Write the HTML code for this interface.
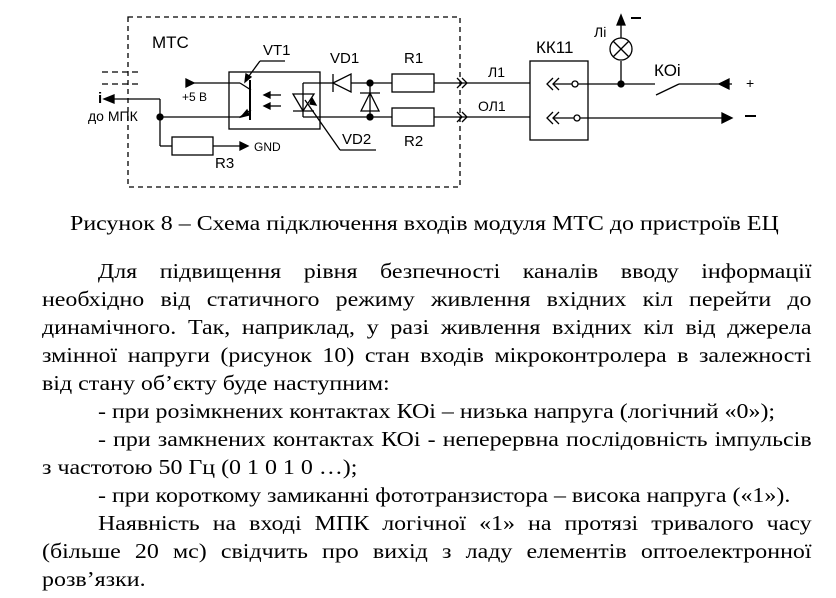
<!DOCTYPE html>
<html><head><meta charset="utf-8">
<style>
body{margin:0;width:836px;height:598px;background:#fff;position:relative;overflow:hidden;font-family:"Liberation Serif",serif;color:#000}
.l{position:absolute;left:42px;width:675px;font-size:21px;line-height:24px;white-space:nowrap;transform:scaleX(1.14);transform-origin:0 0}
.j{text-align:justify;text-align-last:justify;white-space:normal}
svg text{font-family:"Liberation Sans",sans-serif}
</style></head><body>
<svg width="836" height="200" style="position:absolute;left:0;top:0" stroke="#000" fill="none" stroke-width="1.3">
<rect x="128" y="17" width="332" height="170" stroke-dasharray="5,4"/>
<text x="152" y="48" font-size="17" fill="#000" stroke="none">МТС</text>
<line x1="102" y1="72" x2="138" y2="72" stroke-dasharray="6,4"/>
<line x1="102" y1="84" x2="138" y2="84" stroke-dasharray="6,4"/>
<line x1="112" y1="99" x2="160" y2="99"/>
<polygon points="104,99 114,95 114,103" fill="#000"/>
<text x="98" y="103" font-size="15" font-weight="bold" fill="#000" stroke="none">i</text>
<text x="88" y="121" font-size="14" fill="#000" stroke="none">до МПК</text>
<line x1="160" y1="99" x2="160" y2="146"/>
<line x1="160" y1="117" x2="240" y2="117"/>
<circle cx="160" cy="117" r="3" fill="#000"/>
<line x1="160" y1="146" x2="172" y2="146"/>
<rect x="172" y="137" width="41" height="18"/>
<line x1="213" y1="146" x2="242" y2="146"/>
<polygon points="248,146 240,142 240,150" fill="#000"/>
<text x="254" y="151" font-size="12" fill="#000" stroke="none">GND</text>
<text x="215" y="168" font-size="15" fill="#000" stroke="none">R3</text>
<line x1="186" y1="83" x2="240" y2="83"/>
<polygon points="194,83 186,79 186,87" fill="#000"/>
<text x="182" y="101" font-size="12" fill="#000" stroke="none">+5 В</text>
<rect x="229" y="72" width="91" height="57"/>
<line x1="240" y1="83" x2="251" y2="90"/>
<line x1="251" y1="110" x2="240" y2="117"/>
<line x1="250" y1="80" x2="250" y2="120" stroke-width="2"/>
<polygon points="241,117 247,110 249,115" fill="#000"/>
<line x1="285" y1="61" x2="260" y2="61"/><line x1="260" y1="61" x2="246" y2="80"/>
<polygon points="245,82 246,74 251,77" fill="#000"/>
<text x="263" y="55" font-size="15" fill="#000" stroke="none">VT1</text>
<line x1="266" y1="95" x2="281" y2="95"/><polygon points="264,95 270,92 270,98" fill="#000"/>
<line x1="266" y1="106" x2="281" y2="106"/><polygon points="264,106 270,103 270,109" fill="#000"/>
<line x1="303" y1="83" x2="303" y2="117"/>
<polygon points="293,94 314,94 303,111"/>
<line x1="293" y1="111" x2="314" y2="111"/>
<line x1="303" y1="83" x2="320" y2="83"/>
<line x1="303" y1="117" x2="320" y2="117"/>
<line x1="305" y1="100" x2="340" y2="150"/><line x1="340" y1="150" x2="376" y2="150"/>
<polygon points="312,98 316,105 310,104" fill="#000"/>
<text x="342" y="144" font-size="15" fill="#000" stroke="none">VD2</text>
<line x1="320" y1="83" x2="333" y2="83"/>
<polygon points="333,83 351,74 351,92"/>
<line x1="333" y1="74" x2="333" y2="92"/>
<line x1="351" y1="83" x2="392" y2="83"/>
<text x="330" y="63" font-size="15" fill="#000" stroke="none">VD1</text>
<circle cx="370" cy="83" r="3" fill="#000"/>
<circle cx="370" cy="117" r="3" fill="#000"/>
<line x1="370" y1="83" x2="370" y2="117"/>
<line x1="360" y1="93" x2="380" y2="93"/>
<polygon points="370,93 361,111 379,111"/>
<line x1="320" y1="117" x2="392" y2="117"/>
<rect x="392" y="74" width="42" height="18"/>
<rect x="392" y="108" width="42" height="18"/>
<text x="404" y="63" font-size="15" fill="#000" stroke="none">R1</text>
<text x="404" y="146" font-size="15" fill="#000" stroke="none">R2</text>
<line x1="434" y1="83" x2="530" y2="83"/>
<line x1="434" y1="117" x2="530" y2="117"/>
<polyline points="457,78 462,83 457,88"/><polyline points="462,78 467,83 462,88"/>
<polyline points="457,112 462,117 457,122"/><polyline points="462,112 467,117 462,122"/>
<text x="488" y="77" font-size="14" fill="#000" stroke="none">Л1</text>
<text x="478" y="111" font-size="14" fill="#000" stroke="none">ОЛ1</text>
<rect x="530" y="61" width="58" height="79"/>
<text x="536" y="53" font-size="17" fill="#000" stroke="none">КК11</text>
<polyline points="553,78 547,84 553,90"/><polyline points="559,78 553,84 559,90"/>
<polyline points="553,112 547,118 553,124"/><polyline points="559,112 553,118 559,124"/>
<line x1="553" y1="84" x2="572" y2="84"/>
<line x1="553" y1="118" x2="574" y2="118"/>
<circle cx="575" cy="84" r="3"/>
<circle cx="577" cy="118" r="3"/>
<line x1="578" y1="84" x2="655" y2="84"/>
<line x1="580" y1="118" x2="725" y2="118"/>
<polygon points="732,118 722,113 722,123" fill="#000"/>
<circle cx="621" cy="84" r="3" fill="#000"/>
<line x1="621" y1="84" x2="621" y2="61"/>
<circle cx="621" cy="49" r="11"/>
<line x1="613" y1="41" x2="629" y2="57"/><line x1="629" y1="41" x2="613" y2="57"/>
<line x1="621" y1="38" x2="621" y2="22"/>
<polygon points="621,15 617,25 625,25" fill="#000"/>
<line x1="631" y1="18" x2="641" y2="18" stroke-width="2"/>
<text x="594" y="37" font-size="14" fill="#000" stroke="none">Лі</text>
<line x1="656" y1="95" x2="679" y2="84"/>
<line x1="679" y1="84" x2="732" y2="84"/>
<polygon points="719,84 729,79 729,89" fill="#000"/>
<text x="654" y="76" font-size="17" fill="#000" stroke="none">КОі</text>
<text x="746" y="88" font-size="14" fill="#000" stroke="none">+</text>
<line x1="745" y1="116" x2="756" y2="116" stroke-width="2"/>
</svg>
<div class="l" style="top:211px;left:70px;width:auto">Рисунок 8 – Схема підключення входів модуля МТС до пристроїв ЕЦ</div>
<div class="l j" style="top:259px"><span style="padding-left:49px"></span>Для підвищення рівня безпечності каналів вводу інформації</div>
<div class="l j" style="top:287px">необхідно від статичного режиму живлення вхідних кіл перейти до</div>
<div class="l j" style="top:315px">динамічного. Так, наприклад, у разі живлення вхідних кіл від джерела</div>
<div class="l j" style="top:343px">змінної напруги (рисунок 10) стан входів мікроконтролера в залежності</div>
<div class="l" style="top:371px">від стану об’єкту буде наступним:</div>
<div class="l" style="top:399px;left:98px;width:auto">- при розімкнених контактах КОі – низька напруга (логічний «0»);</div>
<div class="l j" style="top:427px;left:98px;width:626px">- при замкнених контактах КОі - неперервна послідовність імпульсів</div>
<div class="l" style="top:455px">з частотою 50 Гц (0 1 0 1 0 …);</div>
<div class="l" style="top:483px;left:98px;width:auto">- при короткому замиканні фототранзистора – висока напруга («1»).</div>
<div class="l j" style="top:511px;left:98px;width:626px">Наявність на вході МПК логічної «1» на протязі тривалого часу</div>
<div class="l j" style="top:539px">(більше 20 мс) свідчить про вихід з ладу елементів оптоелектронної</div>
<div class="l" style="top:567px">розв’язки.</div>
</body></html>
